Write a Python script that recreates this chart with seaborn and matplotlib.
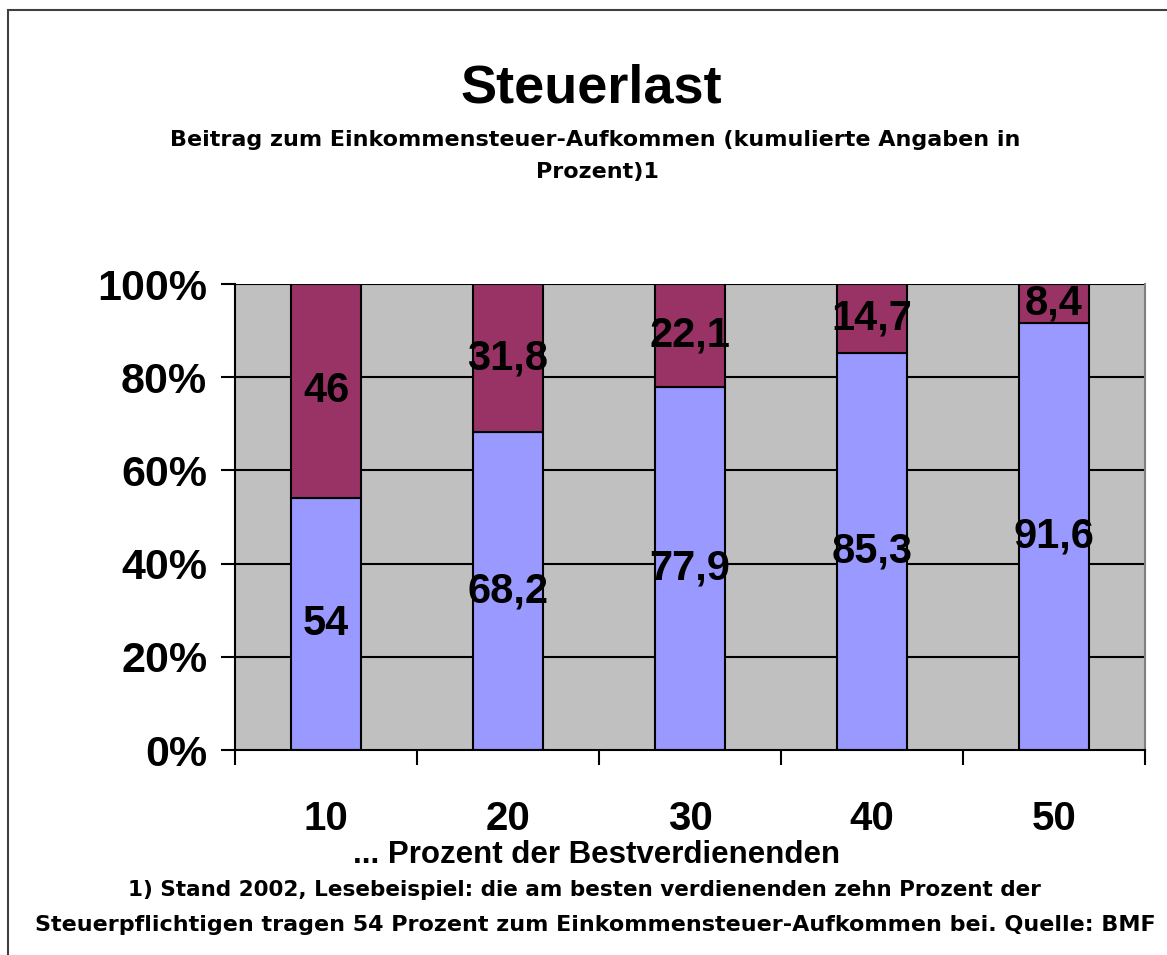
import matplotlib
matplotlib.use("Agg")
import matplotlib.pyplot as plt
import seaborn as sns
import pandas as pd
from matplotlib.patches import Rectangle

categories = ["10", "20", "30", "40", "50"]
anteil_bestverdiener = [54, 68.2, 77.9, 85.3, 91.6]
anteil_rest = [46, 31.8, 22.1, 14.7, 8.4]
y_ticklabels = ["0%", "20%", "40%", "60%", "80%", "100%"]

sns.set_theme(style="white")
plt.rcParams["font.family"] = ["Liberation Sans", "DejaVu Sans"]
plt.rcParams["font.weight"] = "bold"
plt.rcParams["text.color"] = "black"
plt.rcParams["xtick.color"] = "black"
plt.rcParams["ytick.color"] = "black"

BLUE = "#9999FF"
MAROON = "#993366"
GRAY = "#C0C0C0"
WIDE = ["DejaVu Sans"]

df = pd.DataFrame({"cat": categories, "bottom": anteil_bestverdiener, "top": anteil_rest})

fig = plt.figure(figsize=(11.67, 9.55), dpi=100)
ax = fig.add_axes([235 / 1167, 1 - 750 / 955, (1145 - 235) / 1167, (750 - 284) / 955])
ax.set_facecolor(GRAY)

# gridlines
for v in [20, 40, 60, 80, 100]:
    ax.axhline(v, color="black", lw=1.5, zorder=0.5)

sns.barplot(data=df, x="cat", y="bottom", color=BLUE, width=0.39, saturation=1,
            edgecolor="black", linewidth=1.5, ax=ax, zorder=2)
sns.barplot(data=df, x="cat", y="top", bottom=df["bottom"], color=MAROON, width=0.39,
            saturation=1, edgecolor="black", linewidth=1.5, ax=ax, zorder=2)

def fmt(v):
    s = f"{v:g}"
    return s.replace(".", ",")

for i, (b, t) in enumerate(zip(anteil_bestverdiener, anteil_rest)):
    ax.text(i, b / 2, fmt(b), ha="center", va="center", fontsize=30, fontweight="bold",
            color="black", zorder=3)
    ax.text(i, b + t / 2, fmt(t), ha="center", va="center", fontsize=30, fontweight="bold",
            color="black", zorder=3)

ax.set_xlim(-0.5, len(categories) - 0.5)
ax.set_ylim(0, 100)

# x ticks: boundary ticks + centered labels
ax.set_xticks([i - 0.5 for i in range(len(categories) + 1)])
ax.set_xticklabels([])
ax.set_xticks(range(len(categories)), minor=True)
ax.set_xticklabels(categories, minor=True, fontsize=29, fontweight="bold", color="black")
ax.tick_params(axis="x", which="major", direction="out", length=11, width=1.5, color="black",
               bottom=True)
ax.tick_params(axis="x", which="minor", length=0, pad=36, bottom=True)

ax.set_yticks([0, 20, 40, 60, 80, 100])
ax.set_yticklabels(y_ticklabels, fontsize=31, fontweight="bold", color="black")
ax.tick_params(axis="y", direction="out", length=10, width=1.5, color="black", pad=10, left=True)

ax.set_xlabel("")
ax.set_ylabel("")

for side in ["left", "bottom"]:
    ax.spines[side].set_color("black")
    ax.spines[side].set_linewidth(1.5)
ax.spines["right"].set_color("#808080")
ax.spines["right"].set_linewidth(1.5)
ax.spines["top"].set_visible(False)

# texts
fig.text(591 / 1167, 1 - 88 / 955, "Steuerlast", ha="center", va="center",
         fontsize=39, fontweight="bold", color="black")
fig.text(595 / 1167, 1 - 140 / 955,
         "Beitrag zum Einkommensteuer-Aufkommen (kumulierte Angaben in",
         ha="center", va="center", fontsize=16, fontweight="bold", color="black", family=WIDE)
fig.text(597 / 1167, 1 - 172 / 955, "Prozent)1", ha="center", va="center",
         fontsize=16, fontweight="bold", color="black", family=WIDE)
fig.text(597 / 1167, 1 - 855 / 955, "... Prozent der Bestverdienenden",
         ha="center", va="center", fontsize=22.5, fontweight="bold", color="black")
fig.text(584 / 1167, 1 - 890 / 955,
         "1) Stand 2002, Lesebeispiel: die am besten verdienenden zehn Prozent der",
         ha="center", va="center", fontsize=15.5, fontweight="bold", color="black", family=WIDE)
fig.text(595 / 1167, 1 - 925 / 955,
         "Steuerpflichtigen tragen 54 Prozent zum Einkommensteuer-Aufkommen bei. Quelle: BMF",
         ha="center", va="center", fontsize=16, fontweight="bold", color="black", family=WIDE)

# outer chart border
fig.patches.append(Rectangle((8 / 1167, -0.05), 1.2, 1 - 10 / 955 + 0.05,
                             transform=fig.transFigure, fill=False,
                             edgecolor="#404040", linewidth=1.5, figure=fig))

fig.savefig("out.png", dpi=100)
